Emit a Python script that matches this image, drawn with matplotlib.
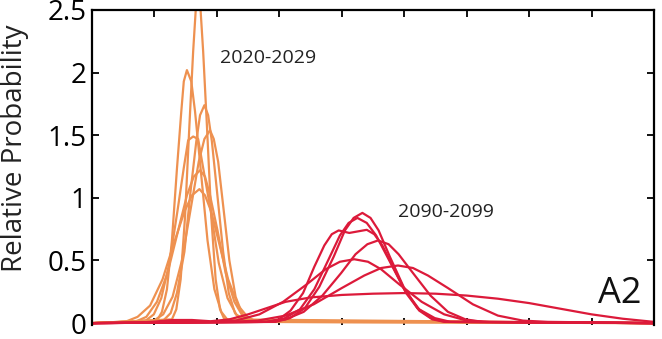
import matplotlib
matplotlib.use("Agg")
import matplotlib.pyplot as plt

# 2020-2029 curves (orange)
x_2020 = [
    [0, 1.28, 1.35, 1.42, 1.49, 1.56, 1.62, 1.66, 1.70, 1.74, 1.78, 1.84, 1.91, 1.98, 2.05, 2.12, 9],
    [0, 1.04, 1.12, 1.20, 1.28, 1.36, 1.43, 1.47, 1.52, 1.59, 1.65, 1.74, 1.85, 1.96, 2.07, 2.18, 9],
    [0, 1.14, 1.26, 1.36, 1.48, 1.58, 1.67, 1.73, 1.80, 1.86, 1.92, 2.00, 2.10, 2.19, 2.29, 2.39, 9],
    [0, 0.99, 1.14, 1.29, 1.44, 1.59, 1.71, 1.80, 1.89, 1.95, 2.02, 2.10, 2.20, 2.30, 2.41, 2.51, 9],
    [0, 0.86, 0.99, 1.11, 1.24, 1.37, 1.47, 1.54, 1.62, 1.70, 1.78, 1.90, 2.03, 2.17, 2.31, 2.45, 9],
    [0, 0.69, 0.87, 1.04, 1.21, 1.38, 1.52, 1.63, 1.73, 1.81, 1.89, 2.01, 2.14, 2.28, 2.42, 2.56, 9],
    [0, 0.53, 0.73, 0.93, 1.13, 1.32, 1.48, 1.60, 1.72, 1.81, 1.91, 2.03, 2.18, 2.34, 2.49, 2.64, 9],
]
y_2020 = [
    [0, 0.03, 0.11, 0.35, 0.85, 1.58, 2.17, 2.49, 2.60, 2.49, 2.17, 1.58, 0.85, 0.35, 0.11, 0.03, 0],
    [0, 0.02, 0.09, 0.27, 0.66, 1.23, 1.69, 1.93, 2.02, 1.93, 1.69, 1.23, 0.66, 0.27, 0.09, 0.02, 0],
    [0, 0.02, 0.08, 0.24, 0.57, 1.06, 1.45, 1.66, 1.74, 1.66, 1.45, 1.06, 0.57, 0.24, 0.08, 0.02, 0],
    [0, 0.02, 0.07, 0.21, 0.50, 0.94, 1.29, 1.47, 1.54, 1.47, 1.29, 0.94, 0.50, 0.21, 0.07, 0.02, 0],
    [0, 0.02, 0.07, 0.20, 0.48, 0.90, 1.24, 1.46, 1.49, 1.47, 1.24, 0.90, 0.48, 0.20, 0.07, 0.02, 0],
    [0, 0.01, 0.05, 0.17, 0.40, 0.74, 1.02, 1.17, 1.22, 1.17, 1.02, 0.74, 0.40, 0.17, 0.05, 0.01, 0],
    [0, 0.01, 0.05, 0.14, 0.35, 0.65, 0.89, 1.02, 1.07, 1.02, 0.89, 0.65, 0.35, 0.14, 0.05, 0.01, 0],
]

# 2090-2099 curves (red)
x_2090 = [
    [0, 2.94, 3.17, 3.41, 3.64, 3.87, 4.05, 4.19, 4.33, 4.46, 4.59, 4.77, 4.99, 5.21, 5.43, 5.65, 9],
    [0, 2.86, 3.09, 3.33, 3.56, 3.79, 3.97, 4.11, 4.25, 4.40, 4.55, 4.75, 5.00, 5.24, 5.49, 5.74, 9],
    [0, 2.79, 2.99, 3.18, 3.38, 3.56, 3.72, 3.84, 3.95, 4.12, 4.40, 4.52, 4.65, 4.82, 5.03, 5.24, 5.45, 5.65, 9],
    [0, 2.80, 3.10, 3.39, 3.69, 3.99, 4.22, 4.41, 4.58, 4.75, 4.91, 5.14, 5.42, 5.70, 5.98, 6.26, 9],
    [0, 1.92, 2.30, 2.68, 3.06, 3.44, 3.74, 3.97, 4.20, 4.42, 4.63, 4.92, 5.28, 5.64, 6.00, 6.36, 9],
    [0, 2.20, 2.65, 3.10, 3.55, 4.00, 4.36, 4.63, 4.90, 5.14, 5.38, 5.70, 6.10, 6.50, 6.90, 7.30, 9],
    [0, 0.70, 1.00, 1.30, 1.60, 1.90, 2.20, 2.50, 2.80, 3.10, 3.50, 4.00, 4.50, 5.00, 5.50, 6.00,
     6.50, 7.00, 7.50, 8.00, 8.50, 9.00],
]
y_2090 = [
    [0, 0.01, 0.04, 0.12, 0.29, 0.53, 0.74, 0.84, 0.88, 0.84, 0.74, 0.53, 0.29, 0.12, 0.04, 0.01, 0],
    [0, 0.01, 0.04, 0.11, 0.27, 0.51, 0.70, 0.80, 0.84, 0.80, 0.70, 0.51, 0.27, 0.11, 0.04, 0.01, 0],
    [0, 0.01, 0.03, 0.10, 0.24, 0.45, 0.62, 0.71, 0.74, 0.72, 0.745, 0.71, 0.62, 0.45, 0.24, 0.10, 0.03, 0.01, 0],
    [0, 0.01, 0.03, 0.09, 0.22, 0.40, 0.55, 0.63, 0.66, 0.63, 0.55, 0.40, 0.22, 0.09, 0.03, 0.01, 0],
    [0, 0.01, 0.02, 0.07, 0.17, 0.31, 0.43, 0.49, 0.51, 0.49, 0.43, 0.31, 0.17, 0.07, 0.02, 0.01, 0],
    [0, 0.01, 0.02, 0.06, 0.15, 0.28, 0.38, 0.44, 0.46, 0.44, 0.38, 0.28, 0.15, 0.06, 0.02, 0.01, 0],
    [0, 0.003, 0.012, 0.025, 0.025, 0.015, 0.03, 0.07, 0.12, 0.17, 0.205, 0.225, 0.235, 0.24, 0.235,
     0.22, 0.195, 0.16, 0.115, 0.07, 0.035, 0.01],
]

yticks = [0, 0.5, 1, 1.5, 2, 2.5]
ytick_labels = ["0", "0.5", "1", "1.5", "2", "2.5"]
xticks = [1, 2, 3, 4, 5, 6, 7, 8]

ORANGE = "#EE9150"
RED = "#DC1A3A"

plt.rcParams["font.family"] = ["Open Sans", "DejaVu Sans"]

fig = plt.figure(figsize=(6.62, 3.39), dpi=100)
# y from -0.015 so the zero-level lines are not half clipped
ax = fig.add_axes([92 / 662, 14 / 339, 562 / 662, 315 / 339])

for xs, ys in zip(x_2020, y_2020):
    ax.plot(xs, ys, color=ORANGE, lw=1.6, solid_joinstyle="round")
for xs, ys in zip(x_2090, y_2090):
    ax.plot(xs, ys, color=RED, lw=1.6, solid_joinstyle="round")

ax.set_xlim(0, 9)
ax.set_ylim(-0.015, 2.5)
ax.set_xticks(xticks)
ax.set_xticklabels([])
ax.set_yticks(yticks)
ax.set_yticklabels(ytick_labels, fontsize=20)
ax.tick_params(direction="in", length=5, width=1.3, top=True, right=True, pad=4)
for sp in ax.spines.values():
    sp.set_linewidth(1.6)
ax.spines["bottom"].set_visible(False)

ax.set_ylabel("Relative Probability", fontsize=20, color="#222222")
ax.yaxis.set_label_coords(-0.112, 0.562)

ax.text(2.05, 2.12, "2020-2029", fontsize=14, color="#222222", ha="left", va="center")
ax.text(4.9, 0.89, "2090-2099", fontsize=14, color="#222222", ha="left", va="center")
ax.text(8.8, 0.16, "A2", fontsize=26, color="#111111", ha="right", va="baseline")

fig.savefig("out.png", dpi=100)
